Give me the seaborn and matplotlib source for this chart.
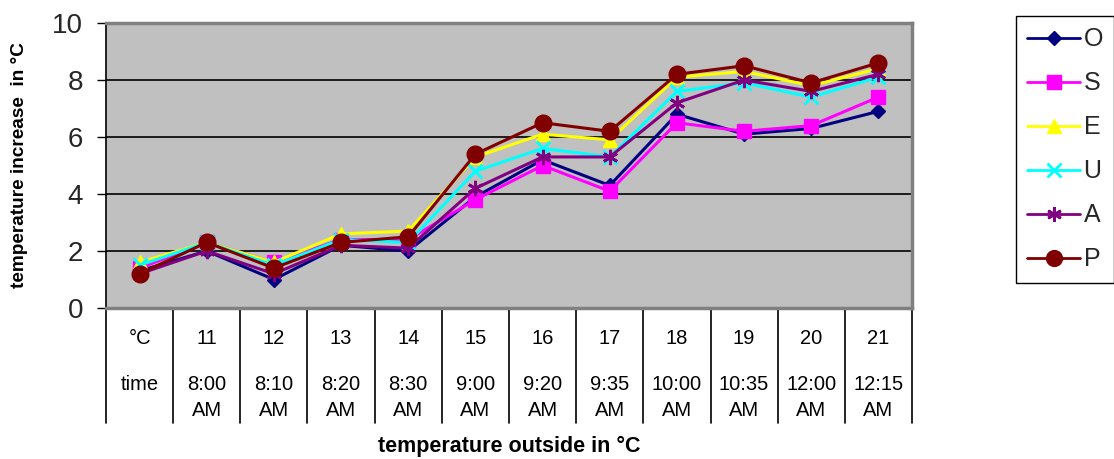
import numpy as np
import pandas as pd
import matplotlib
matplotlib.use("Agg")
import matplotlib.pyplot as plt
import matplotlib.transforms as mtransforms
from matplotlib.lines import Line2D
import seaborn as sns

# ---------------- data ----------------
temp_labels = ["°C", "11", "12", "13", "14", "15", "16", "17", "18", "19", "20", "21"]
time_labels = ["time", "8:00 AM", "8:10 AM", "8:20 AM", "8:30 AM", "9:00 AM", "9:20 AM",
               "9:35 AM", "10:00 AM", "10:35 AM", "12:00 AM", "12:15 AM"]
series_names = ["O", "S", "E", "U", "A", "P"]
O = [1.3, 2.0, 1.0, 2.2, 2.0, 3.9, 5.2, 4.3, 6.8, 6.1, 6.3, 6.9]
S = [1.4, 2.3, 1.6, 2.4, 2.4, 3.8, 5.0, 4.1, 6.5, 6.2, 6.4, 7.4]
E = [1.6, 2.3, 1.6, 2.6, 2.7, 5.3, 6.1, 5.9, 8.1, 8.3, 7.8, 8.4]
U = [1.5, 2.3, 1.5, 2.4, 2.3, 4.8, 5.6, 5.3, 7.6, 7.9, 7.4, 8.1]
A = [1.2, 2.0, 1.2, 2.2, 2.1, 4.2, 5.3, 5.3, 7.2, 8.0, 7.6, 8.2]
P = [1.2, 2.3, 1.4, 2.3, 2.5, 5.4, 6.5, 6.2, 8.2, 8.5, 7.9, 8.6]
yticks = [0, 2, 4, 6, 8, 10]

values = [O, S, E, U, A, P]
colors = {"O": "#000080", "S": "#FF00FF", "E": "#FFFF00",
          "U": "#00FFFF", "A": "#800080", "P": "#800000"}
asterisk = (6, 2, 0)
markers = {"O": "D", "S": "s", "E": "^", "U": "x", "A": asterisk, "P": "o"}
msizes = {"O": 7, "S": 10, "E": 10, "U": 10, "A": 11, "P": 12}

rows = []
for name, vals in zip(series_names, values):
    for i, v in enumerate(vals):
        rows.append({"pos": i, "value": v, "series": name})
df = pd.DataFrame(rows)

# ---------------- figure ----------------
sns.set_style("white")
plt.rcParams["font.family"] = ["Liberation Sans", "DejaVu Sans"]

W, H = 1114, 459
fig = plt.figure(figsize=(W / 100, H / 100), dpi=100)
L, R, T, B = 106, 912, 23, 308
ax = fig.add_axes([L / W, 1 - B / H, (R - L) / W, (B - T) / H])
ax.set_facecolor("#C0C0C0")

for name in series_names:
    sub = df[df["series"] == name]
    sns.lineplot(data=sub, x="pos", y="value", ax=ax, color=colors[name],
                 marker=markers[name], markersize=msizes[name],
                 markeredgecolor=colors[name], markerfacecolor=colors[name],
                 markeredgewidth=2 if name in ("U", "A") else 1,
                 linewidth=2.2, legend=False, zorder=3)

n = len(temp_labels)
ax.set_xlim(-0.5, n - 0.5)
ax.set_ylim(0, 10)
ax.set_yticks(yticks)
ax.set_yticklabels([str(t) for t in yticks], fontsize=20)
ax.yaxis.grid(True, color="black", linewidth=1.2)
ax.set_axisbelow(True)
ax.set_xticks([])
ax.tick_params(axis="y", direction="out", length=6.5, width=1, color="black", pad=10, left=True)
ax.set_xlabel("")
ax.set_ylabel("")

for s in ["top", "right"]:
    ax.spines[s].set_color("#808080")
    ax.spines[s].set_linewidth(2.5)
ax.spines["left"].set_color("black")
ax.spines["left"].set_linewidth(1.2)
ax.spines["bottom"].set_color("#808080")
ax.spines["bottom"].set_linewidth(2.5)

# ---------------- data table below ----------------
trans = mtransforms.blended_transform_factory(ax.transData, ax.transAxes)
ph = B - T
def ay(py):
    return (B - py) / ph

for k in range(n + 1):
    ax.plot([k - 0.5, k - 0.5], [0, ay(423)], color="black", lw=1.2,
            transform=trans, clip_on=False)
ax.plot([-0.5, n - 0.5], [0, 0], color="black", lw=1.2, transform=trans, clip_on=False)

for i, (t, tm) in enumerate(zip(temp_labels, time_labels)):
    ax.text(i, ay(339), t, transform=trans, ha="center", va="center", fontsize=14.5,
            color="black")
    parts = tm.split(" ")
    ax.text(i, ay(384), parts[0], transform=trans, ha="center", va="center", fontsize=14.5,
            color="black")
    if len(parts) > 1:
        ax.text(i, ay(410), parts[1], transform=trans, ha="center", va="center",
                fontsize=14.5, color="black")

fig.text(509 / W, 1 - 446 / H, "temperature outside in °C", ha="center",
         va="center", fontsize=15.5, fontweight="bold", color="black")
fig.text(20 / W, 1 - 165 / H, "temperature increase  in °C", ha="center", va="center",
         rotation=90, fontsize=13.7, fontweight="bold", color="black")

# ---------------- legend ----------------
handles = [Line2D([0], [0], color=colors[nm], marker=markers[nm],
                  markersize=msizes[nm] * 0.95, markerfacecolor=colors[nm],
                  markeredgecolor=colors[nm],
                  markeredgewidth=2 if nm in ("U", "A") else 1, linewidth=2)
           for nm in series_names]
leg = fig.legend(handles, series_names, loc="upper left",
                 bbox_to_anchor=(1016 / W, 1 - 16 / H), fontsize=18,
                 frameon=True, fancybox=False, edgecolor="black", framealpha=1,
                 handlelength=2.1, handletextpad=0.15, labelspacing=0.8,
                 borderpad=0.45, borderaxespad=0)
leg.get_frame().set_linewidth(1.0)

fig.savefig("out.png", dpi=100)
